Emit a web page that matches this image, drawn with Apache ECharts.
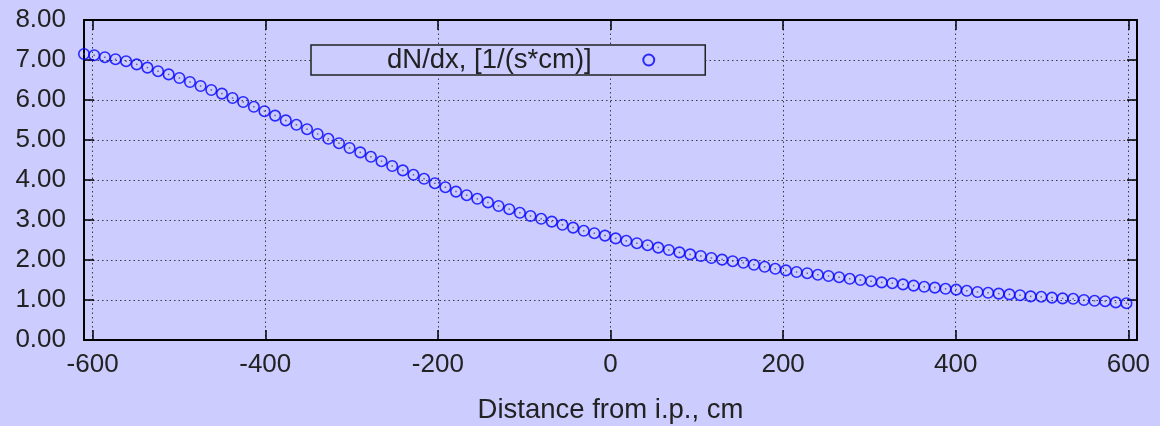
<!DOCTYPE html>
<html>
<head>
<meta charset="utf-8">
<title>dN/dx vs distance</title>
<script src="https://cdn.jsdelivr.net/npm/echarts@6/dist/echarts.min.js"></script>
<style>
  html, body { margin: 0; padding: 0; background: #ccccff; }
  #chart { width: 1160px; height: 426px; }
</style>
</head>
<body>
<div id="chart"></div>
<script>
// distance from i.p., cm
const distance = [
  -610.0, -598.2, -585.8, -573.5, -561.2, -548.9, -536.5, -524.2, -511.9, -499.5,
  -487.2, -474.9, -462.5, -450.2, -437.9, -425.6, -413.2, -400.9, -388.6, -376.2,
  -363.9, -351.6, -339.3, -326.9, -314.6, -302.3, -289.9, -277.6, -265.3, -252.9,
  -240.6, -228.3, -216.0, -203.6, -191.3, -179.0, -166.6, -154.3, -142.0, -129.7,
  -117.3, -105.0, -92.7, -80.3, -68.0, -55.7, -43.3, -31.0, -18.7, -6.4,
  6.0, 18.3, 30.6, 43.0, 55.3, 67.6, 79.9, 92.3, 104.6, 116.9,
  129.3, 141.6, 153.9, 166.2, 178.6, 190.9, 203.2, 215.6, 227.9, 240.2,
  252.6, 264.9, 277.2, 289.5, 301.9, 314.2, 326.5, 338.9, 351.2, 363.5,
  375.8, 388.2, 400.5, 412.8, 425.2, 437.5, 449.8, 462.2, 474.5, 486.8,
  499.1, 511.5, 523.8, 536.1, 548.5, 560.8, 573.1, 585.4, 597.8
]
// dN/dx, [1/(s*cm)]
const dndx = [
  7.15, 7.12, 7.07, 7.02, 6.97, 6.89, 6.81, 6.72, 6.64, 6.55,
  6.45, 6.35, 6.25, 6.16, 6.05, 5.95, 5.83, 5.72, 5.61, 5.49,
  5.38, 5.27, 5.15, 5.03, 4.92, 4.80, 4.69, 4.58, 4.47, 4.35,
  4.24, 4.13, 4.03, 3.92, 3.82, 3.71, 3.62, 3.53, 3.44, 3.35,
  3.27, 3.18, 3.10, 3.03, 2.96, 2.88, 2.81, 2.73, 2.67, 2.61,
  2.54, 2.48, 2.42, 2.37, 2.31, 2.25, 2.19, 2.14, 2.10, 2.05,
  2.01, 1.97, 1.93, 1.88, 1.83, 1.78, 1.74, 1.70, 1.67, 1.63,
  1.60, 1.57, 1.53, 1.50, 1.47, 1.44, 1.42, 1.39, 1.36, 1.33,
  1.31, 1.28, 1.26, 1.23, 1.20, 1.18, 1.16, 1.14, 1.12, 1.09,
  1.08, 1.06, 1.04, 1.03, 1.00, 0.98, 0.97, 0.94, 0.92
]
const xTicks = [-600, -400, -200, 0, 200, 400, 600]
const seriesName = 'dN/dx, [1/(s*cm)]'
const xName = 'Distance from i.p., cm'

const font = '"Liberation Sans", Arial, sans-serif'
const textColor = '#222'
const points = distance.map((x, i) => [x, dndx[i]])

const chart = echarts.init(document.getElementById('chart'), null, { renderer: 'canvas' })

const frameLine = { show: true, onZero: false, lineStyle: { color: '#000', width: 2 } }
const innerTick = { show: true, inside: true, length: 10, lineStyle: { color: '#000', width: 1.5 } }
const dotted = { show: true, lineStyle: { color: '#3a3a3a', width: 1, type: [1.5, 3] } }

chart.setOption({
  animation: false,
  backgroundColor: '#ccccff',
  textStyle: { fontFamily: font },
  grid: {
    left: 84,
    right: 23,
    top: 20,
    bottom: 86,
    containLabel: false,
    outerBoundsMode: 'none'
  },
  legend: {
    data: [seriesName],
    left: 311,
    top: 45,
    align: 'right',
    orient: 'horizontal',
    itemWidth: 104,
    itemHeight: 11,
    padding: [1, 50, 1, 76],
    borderColor: '#222',
    borderWidth: 1.5,
    borderRadius: 0,
    backgroundColor: '#ccccff',
    textStyle: { fontSize: 27.5, color: textColor, fontFamily: font },
    selectedMode: false
  },
  xAxis: [{
    type: 'value',
    min: -610,
    max: 610,
    position: 'bottom',
    name: xName,
    nameLocation: 'middle',
    nameGap: 56,
    nameTextStyle: { fontSize: 27.5, color: textColor, fontFamily: font },
    axisLine: frameLine,
    axisTick: Object.assign({ customValues: xTicks }, innerTick),
    axisLabel: {
      customValues: xTicks,
      fontSize: 26,
      color: textColor,
      margin: 12
    },
    splitLine: dotted
  }, {
    type: 'value',
    min: -610,
    max: 610,
    position: 'top',
    axisLine: frameLine,
    axisTick: Object.assign({ customValues: xTicks }, innerTick),
    axisLabel: { show: false },
    splitLine: { show: false }
  }],
  yAxis: [{
    type: 'value',
    min: 0,
    max: 8,
    interval: 1,
    position: 'left',
    axisLine: frameLine,
    axisTick: innerTick,
    axisLabel: {
      fontSize: 26,
      color: textColor,
      margin: 18,
      formatter: v => v.toFixed(2)
    },
    splitLine: dotted
  }, {
    type: 'value',
    min: 0,
    max: 8,
    interval: 1,
    position: 'right',
    axisLine: frameLine,
    axisTick: innerTick,
    axisLabel: { show: false },
    splitLine: { show: false }
  }],
  series: [{
    name: seriesName,
    type: 'scatter',
    data: points,
    symbol: 'circle',
    symbolSize: 10.5,
    clip: false,
    itemStyle: {
      color: 'transparent',
      borderColor: '#0000ff',
      borderWidth: 1.6
    },
    z: 3
  }, {
    name: 'center',
    type: 'scatter',
    data: points,
    symbol: 'rect',
    symbolSize: 1.5,
    clip: false,
    silent: true,
    itemStyle: { color: '#444488' },
    z: 4
  }]
})
</script>
</body>
</html>
